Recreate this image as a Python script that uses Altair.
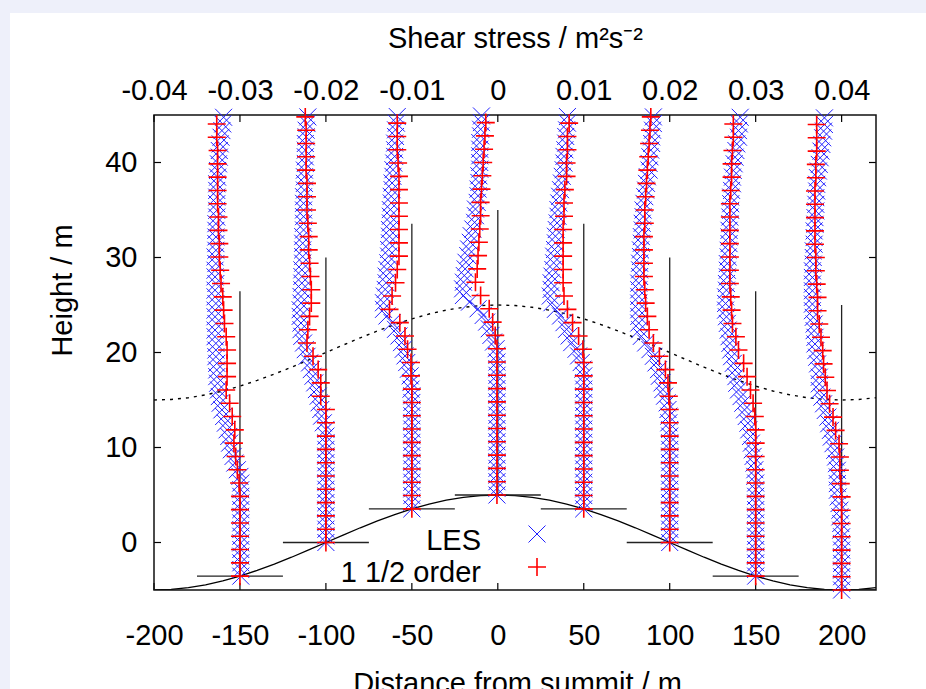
import altair as alt
import pandas as pd

# ---------------- data ----------------
X_TICKS = [-200, -150, -100, -50, 0, 50, 100, 150, 200]
TOP_TICKS = [-0.04, -0.03, -0.02, -0.01, 0.0, 0.01, 0.02, 0.03, 0.04]
Y_TICKS = [0, 10, 20, 30, 40]

PROFILE_X = [-150, -100, -50, 0, 50, 100, 150, 200]
GROUND = [-3.54, 0.0, 3.54, 5.0, 3.54, 0.0, -3.54, -5.0]
ZERO_TOP = [26.46, 30.0, 33.54, 35.0, 33.54, 30.0, 26.46, 25.0]
BAR_HALF = [25, 25, 25, 25, 25, 25, 25, 25]

HILL_X = [-200, -190, -180, -170, -160, -150, -140, -130, -120, -110, -100, -90, -80, -70, -60,
          -50, -40, -30, -20, -10, 0, 10, 20, 30, 40, 50, 60, 70, 80, 90, 100, 110, 120, 130,
          140, 150, 160, 170, 180, 190, 200, 210, 220]
HILL_Y = [-5.0, -4.94, -4.76, -4.46, -4.05, -3.54, -2.94, -2.27, -1.55, -0.78, 0.0, 0.78, 1.55,
          2.27, 2.94, 3.54, 4.05, 4.46, 4.76, 4.94, 5.0, 4.94, 4.76, 4.46, 4.05, 3.54, 2.94,
          2.27, 1.55, 0.78, 0.0, -0.78, -1.55, -2.27, -2.94, -3.54, -4.05, -4.46, -4.76, -4.94,
          -5.0, -4.94, -4.76]
LAYER_Y = [15.0, 15.06, 15.24, 15.54, 15.95, 16.46, 17.06, 17.73, 18.45, 19.22, 20.0, 20.78,
           21.55, 22.27, 22.94, 23.54, 24.05, 24.46, 24.76, 24.94, 25.0, 24.94, 24.76, 24.46,
           24.05, 23.54, 22.94, 22.27, 21.55, 20.78, 20.0, 19.22, 18.45, 17.73, 17.06, 16.46,
           15.95, 15.54, 15.24, 15.06, 15.0, 15.06, 15.24]

# heights above local ground of the model and LES levels (m)
H_MODEL = [0.0, 1.4, 2.8, 4.2, 5.6, 7.0, 8.4, 9.8, 11.2, 12.6, 14.0, 15.4, 16.8, 18.2, 19.6,
           21.0, 22.4, 23.8, 25.2, 26.6, 28.0, 29.4, 30.8, 32.2, 33.6, 35.0, 36.4, 37.8, 39.2,
           40.6, 42.0, 43.4, 44.8, 46.2, 47.6, 49.0]
H_LES = [0.0, 0.7, 1.4, 2.1, 2.8, 3.5, 4.2, 4.9, 5.6, 6.3, 7.0, 7.7, 8.4, 9.1, 9.8, 10.5, 11.2,
         11.9, 12.6, 13.3, 14.0, 14.7, 15.4, 16.1, 16.8, 17.5, 18.2, 18.9, 19.6, 20.3, 21.0,
         21.7, 22.4, 23.1, 23.8, 24.5, 25.2, 25.9, 26.6, 27.3, 28.0, 28.7, 29.4, 30.1, 30.8,
         31.5, 32.2, 32.9, 33.6, 34.3, 35.0, 35.7, 36.4, 37.1, 37.8, 38.5, 39.2, 39.9, 40.6,
         41.3, 42.0, 42.7, 43.4, 44.1, 44.8, 45.5, 46.2, 46.9, 47.6, 48.3, 49.0, 49.7]

# shear stress in units of 1e-3 m2 s-2, bottom level upward
MODEL_M150 = [0.0, 0.0, 0.0, 0.0, 0.0, 0.0, 0.0, -0.1, -0.3, -0.5, -0.7, -0.6, -0.9, -1.2, -1.6,
              -1.5, -1.5, -1.5, -1.6, -1.8, -1.9, -2.0, -2.2, -2.3, -2.4, -2.4, -2.5, -2.5,
              -2.6, -2.6, -2.6, -2.6, -2.6, -2.7, -2.7]
LES_M150 = [0.1, 0.1, 0.1, 0.1, 0.1, 0.1, 0.1, 0.1, 0.1, 0.1, 0.1, 0.1, 0.1, 0.1, 0.1, 0.0,
            -0.3, -0.6, -0.8, -1.0, -1.2, -1.3, -1.5, -1.7, -1.9, -2.1, -2.3, -2.4, -2.5, -2.6,
            -2.7, -2.7, -2.7, -2.8, -2.8,
            -2.8, -2.9, -2.9, -2.8, -2.9, -2.9, -2.8, -2.9, -2.9, -2.8, -2.9, -2.9, -2.8, -2.9,
            -2.8, -2.8, -2.8, -2.8, -2.8, -2.7, -2.7, -2.7,
            -2.7, -2.7, -2.7, -2.6, -2.6, -2.5, -2.4, -2.4, -2.3, -2.2, -2.1, -2.0, -1.9]
MODEL_M100 = [0.0, 0.0, 0.0, 0.0, 0.0, 0.0, 0.0, 0.0, 0.0, 0.0, 0.0, -0.6, -0.6, -0.9, -1.5,
              -2.2, -2.1, -1.9, -1.7, -1.7, -1.8, -1.9, -2.0, -2.0, -2.1, -2.2, -2.2, -2.2,
              -2.3, -2.3, -2.3, -2.3, -2.4]
LES_M100 = [0.0, 0.0, 0.0, 0.0, 0.0, 0.0, 0.0, 0.0, 0.0, 0.0, 0.0, 0.0, 0.0, 0.0, 0.0, 0.0,
            0.0, 0.0, -0.3, -0.5, -0.6, -0.8, -0.9, -1.1, -1.3, -1.5, -1.7, -1.9, -2.2, -2.4,
            -2.6, -2.8, -2.9, -2.9, -3.0, -3.0, -2.9, -2.9, -2.8, -2.8, -2.8, -2.8, -2.7, -2.7,
            -2.7, -2.7, -2.7, -2.6, -2.6, -2.6, -2.6, -2.6, -2.6, -2.5, -2.5, -2.5, -2.5, -2.4,
            -2.4, -2.4, -2.4, -2.3, -2.3, -2.2, -2.1]
MODEL_M50 = [0.0, 0.0, 0.0, 0.0, 0.0, 0.0, 0.0, 0.0, 0.0, 0.0, -0.1, -0.1, -0.5, -0.8, -1.4,
             -2.6, -2.3, -1.9, -1.7, -1.5, -1.5, -1.5, -1.5, -1.5, -1.5, -1.5, -1.6, -1.7,
             -1.7, -1.7]
LES_M50 = [0.0, 0.0, 0.0, 0.0, 0.0, 0.0, 0.0, 0.0, 0.0, 0.0, 0.0, 0.0, 0.0, 0.0, 0.0, 0.0,
           0.0, 0.0, -0.1, -0.1, -0.2, -0.4, -0.6, -0.8, -1.0, -1.2, -1.5, -1.9, -2.3, -2.9,
           -3.3, -3.3, -3.2, -3.1, -3.0, -3.0, -2.9, -2.8, -2.7, -2.7, -2.6, -2.6, -2.6, -2.5,
           -2.5, -2.5, -2.4, -2.4, -2.3, -2.3, -2.2, -2.2, -2.1, -2.0, -2.0, -2.0, -1.9, -1.9,
           -1.8, -1.7]
MODEL_0 = [-0.1, -0.1, -0.1, -0.1, -0.1, -0.1, -0.1, -0.1, -0.1, -0.1, -0.1, -0.1, -0.3, -0.6,
           -1.0, -2.0, -2.6, -2.4, -2.3, -2.2, -2.1, -2.0, -2.0, -1.9, -1.8, -1.7, -1.6, -1.5,
           -1.4]
LES_0 = [-0.1, -0.1, -0.1, -0.1, -0.1, -0.1, -0.1, -0.1, -0.1, -0.1, -0.1, -0.1, -0.1, -0.1,
         -0.1, -0.1, -0.1, -0.1, -0.1, -0.1, -0.1, -0.1, -0.2, -0.5, -0.8, -1.0, -1.3, -1.7,
         -2.3, -3.3, -4.0, -4.1, -4.0, -3.9, -3.8, -3.7, -3.5, -3.4, -3.2, -3.1, -2.9, -2.7,
         -2.6, -2.6, -2.4, -2.3, -2.3, -2.2, -2.2, -2.1, -2.1, -2.1, -2.1, -2.1, -2.0, -2.0,
         -1.9, -1.9]
MODEL_50 = [0.0, 0.0, 0.0, 0.0, 0.0, 0.0, 0.0, 0.0, 0.0, 0.0, 0.0, 0.0, -0.1, -0.6, -1.3,
            -1.9, -2.3, -2.4, -2.4, -2.4, -2.4, -2.4, -2.3, -2.3, -2.2, -2.0, -2.0, -1.9,
            -1.9, -1.7]
LES_50 = [0.0, 0.0, 0.0, 0.0, 0.0, 0.0, 0.0, 0.0, 0.0, 0.0, 0.0, 0.0, 0.0, 0.0, 0.0, 0.0, 0.0,
          0.0, 0.0, 0.0, 0.0, -0.1, -0.3, -0.6, -0.9, -1.4, -1.7, -2.0, -2.3, -2.7, -3.3, -3.7,
          -3.9, -3.8, -3.8, -3.7, -3.6, -3.5, -3.5, -3.4, -3.3, -3.3, -3.2, -3.1, -3.0, -3.0,
          -2.9, -2.8, -2.7, -2.6, -2.5, -2.4, -2.3, -2.3, -2.2, -2.1, -2.1, -2.0, -1.9, -1.9]
MODEL_100 = [0.0, 0.0, 0.0, 0.0, 0.0, 0.0, 0.0, 0.0, 0.0, 0.0, 0.0, -0.1, -0.2, -0.5, -1.2,
             -1.9, -2.4, -2.6, -2.8, -2.9, -3.0, -3.0, -3.0, -3.0, -2.9, -2.9, -2.8, -2.7,
             -2.6, -2.5, -2.4, -2.3, -2.2]
LES_100 = [0.0, 0.0, 0.0, 0.0, 0.0, 0.0, 0.0, 0.0, 0.0, 0.0, 0.0, 0.0, 0.0, 0.0, 0.0, 0.0, 0.0,
           0.0, -0.1, -0.1, -0.2, -0.3, -0.6, -0.8, -0.9, -1.2, -1.3, -1.6, -1.9, -2.3, -2.8,
           -3.3, -3.5, -3.6, -3.6, -3.6, -3.6, -3.6, -3.6, -3.6, -3.5, -3.5, -3.5, -3.4, -3.4,
           -3.3, -3.3, -3.2, -3.2, -3.1, -3.1, -3.0, -2.9, -2.8, -2.7, -2.6, -2.4, -2.4, -2.3,
           -2.2, -2.1, -2.1, -2.0, -1.9, -1.9]
MODEL_150 = [0.0, 0.0, 0.0, 0.0, 0.0, 0.0, 0.0, 0.0, 0.0, 0.0, 0.0, 0.0, -0.1, -0.3, -0.6,
             -1.0, -1.4, -2.0, -2.3, -2.7, -2.8, -2.9, -3.0, -3.0, -3.0, -3.0, -3.0, -3.0,
             -3.0, -2.9, -2.8, -2.8, -2.7, -2.6, -2.6]
LES_150 = [0.0, 0.0, 0.0, 0.0, 0.0, 0.0, 0.0, 0.0, 0.0, 0.0, 0.0, 0.0, 0.0, 0.0, 0.0, -0.1,
           -0.1, -0.2, -0.3, -0.4, -0.5, -0.6, -0.8, -0.9, -1.1, -1.3, -1.5, -1.7, -2.0, -2.2,
           -2.3, -2.4, -2.6, -2.8, -2.9, -3.0, -3.1, -3.2, -3.3, -3.4, -3.5, -3.5, -3.5, -3.4,
           -3.4, -3.3, -3.3, -3.3, -3.2, -3.2, -3.1, -3.1, -3.1, -3.0, -3.0, -2.9, -2.9, -2.9,
           -2.8, -2.7, -2.7, -2.6, -2.5, -2.4, -2.3, -2.2, -2.0, -2.0, -1.9, -1.8]
MODEL_200 = [0.0, 0.0, 0.0, 0.0, 0.0, 0.0, 0.0, 0.0, -0.1, -0.2, -0.2, -0.3, -0.7, -1.0, -1.4,
             -1.7, -1.9, -2.1, -2.2, -2.4, -2.6, -2.8, -2.8, -2.9, -3.0, -3.0, -3.1, -3.1,
             -3.1, -3.1, -3.1, -3.0, -3.0, -2.9, -2.9, -2.9]
LES_200 = [0.0, 0.0, 0.0, 0.0, 0.0, 0.0, 0.0, 0.0, 0.0, -0.1, -0.1, -0.2, -0.2, -0.3, -0.4,
           -0.5, -0.5, -0.5, -0.5, -0.6, -0.7, -0.8, -1.0, -1.2, -1.3, -1.5, -1.6, -1.9, -2.1,
           -2.3, -2.6, -2.6, -2.6, -2.6, -2.8, -2.9, -3.0, -3.1, -3.1, -3.2, -3.2, -3.3, -3.4,
           -3.4, -3.4, -3.4, -3.4, -3.4, -3.4, -3.3, -3.3, -3.3, -3.2, -3.2, -3.2, -3.1, -3.1,
           -3.0, -3.0, -3.0, -2.9, -2.9, -2.8, -2.7, -2.6, -2.5, -2.4, -2.3, -2.2, -2.1, -2.0,
           -2.0]

MODEL = [MODEL_M150, MODEL_M100, MODEL_M50, MODEL_0, MODEL_50, MODEL_100, MODEL_150, MODEL_200]
LES = [LES_M150, LES_M100, LES_M50, LES_0, LES_50, LES_100, LES_150, LES_200]
LEGEND = ["LES", "1 1/2 order"]

Y_MAX = 45.0
M_PER_STRESS = 5.0  # 1e-3 m2 s-2 of shear stress = 5 m on the distance axis (top axis)

# ---------------- tables ----------------
def profile_rows(levels, series):
    rows = []
    for x0, g, vals in zip(PROFILE_X, GROUND, series):
        for h, s in zip(levels, vals):
            z = g + h
            if z <= Y_MAX + 0.05:
                rows.append({"x": x0 + s * M_PER_STRESS, "y": z})
    return pd.DataFrame(rows)

les_df = profile_rows(H_LES, LES)
model_df = profile_rows(H_MODEL, MODEL)
hill_df = pd.DataFrame({"x": HILL_X, "y": HILL_Y})
layer_df = pd.DataFrame({"x": HILL_X, "y": LAYER_Y})
zero_df = pd.DataFrame({"x": PROFILE_X, "y": GROUND, "y2": ZERO_TOP})
bar_df = pd.DataFrame({"x": [p - b for p, b in zip(PROFILE_X, BAR_HALF)],
                       "x2": [p + b for p, b in zip(PROFILE_X, BAR_HALF)],
                       "y": GROUND})
xt_df = pd.DataFrame({"x": X_TICKS})
yt_df = pd.DataFrame({"y": Y_TICKS})
top_df = pd.DataFrame({"s": TOP_TICKS})

# ---------------- chart ----------------
FONT = "Liberation Sans"
FS = 29
W, H = 722, 475
PAGE = "#eef0fa"
xs = alt.Scale(domain=[-200, 220], nice=False, zero=False)
ys = alt.Scale(domain=[-5, 45], nice=False, zero=False)
ss = alt.Scale(domain=[-0.04, 0.044], nice=False, zero=False)

AX_X = alt.Axis(
    orient="bottom", values=X_TICKS, ticks=False, domain=False, grid=False, zindex=1,
    labelExpr="(datum.value < 0 ? '-' : '') + format(abs(datum.value), 'd')",
    labelFont=FONT, labelFontSize=FS, labelColor="black", labelPadding=31,
    labelFlush=False, labelOverlap=False,
    title="Distance from summit / m", titleFont=FONT, titleFontSize=FS,
    titleFontWeight="normal", titleColor="black", titleX=363, titleY=93,
    titleBaseline="middle", titleAlign="center")
AX_Y = alt.Axis(
    orient="left", values=Y_TICKS, ticks=False, domain=False, grid=False, zindex=1,
    labelFont=FONT, labelFontSize=FS, labelColor="black", labelPadding=17,
    labelFlush=False, labelOverlap=False, format="d",
    title="Height / m", titleFont=FONT, titleFontSize=FS, titleFontWeight="normal",
    titleColor="black", titleAngle=270, titleX=-92, titleY=175,
    titleBaseline="middle", titleAlign="center")


def X(field="x"):
    return alt.X(f"{field}:Q", scale=xs, axis=AX_X)


def Y(field="y"):
    return alt.Y(f"{field}:Q", scale=ys, axis=AX_Y)


PLUS = "M-1,0L1,0M0,-1L0,1"
CROSS = "M-1,-1L1,1M-1,1L1,-1"

# page strips around the white card
strip_top = alt.Chart().mark_rect(color=PAGE).encode(
    x=alt.value(-154), x2=alt.value(W + 50), y=alt.value(-115), y2=alt.value(-102))
strip_left = alt.Chart().mark_rect(color=PAGE).encode(
    x=alt.value(-154), x2=alt.value(-144), y=alt.value(-115), y2=alt.value(H + 99))

hill = alt.Chart(hill_df).mark_line(color="black", strokeWidth=1.3, clip=True).encode(
    x=X(), y=Y())

layer_line = alt.Chart(layer_df).mark_line(color="black", strokeWidth=1.4,
                                           strokeDash=[3, 5], clip=True).encode(x=X(), y=Y())

zero_lines = alt.Chart(zero_df).mark_rule(color="#222222", strokeWidth=1.3).encode(
    x=X(), y=Y(), y2="y2:Q")

bars = alt.Chart(bar_df).mark_rule(color="#222222", strokeWidth=1.3, clip=True).encode(
    x=X(), x2="x2:Q", y=Y())

bt = alt.Chart(xt_df).mark_rule(color="black", strokeWidth=1.2).encode(
    x=X(), y=alt.value(H), y2=alt.value(H - 7))
lt = alt.Chart(yt_df).mark_rule(color="black", strokeWidth=1.2).encode(
    y=Y(), x=alt.value(0), x2=alt.value(7))
rt = alt.Chart(yt_df).mark_rule(color="black", strokeWidth=1.2).encode(
    y=Y(), x=alt.value(W), x2=alt.value(W - 7))

# plot frame
frame = alt.Chart().mark_rect(filled=False, stroke="#111111", strokeWidth=1.5).encode(
    x=alt.value(0), x2=alt.value(W), y=alt.value(0), y2=alt.value(H))

les_pts = alt.Chart(les_df).mark_point(shape=CROSS, filled=False, size=289, color="#1f1fff",
                                       strokeWidth=1.0, opacity=1).encode(x=X(), y=Y())
model_pts = alt.Chart(model_df).mark_point(shape=PLUS, filled=False, size=324, color="#ff0000",
                                           strokeWidth=1.6, opacity=1).encode(x=X(), y=Y())

# key (gnuplot style: text, then symbol)
key_les_t = alt.Chart().mark_text(text=LEGEND[0], font=FONT, fontSize=FS, align="right",
                                  baseline="middle", color="black").encode(
    x=alt.value(327), y=alt.value(426))
key_mod_t = alt.Chart().mark_text(text=LEGEND[1], font=FONT, fontSize=FS, align="right",
                                  baseline="middle", color="black").encode(
    x=alt.value(327), y=alt.value(458))
key_les_s = alt.Chart().mark_point(shape=CROSS, filled=False, size=289, color="#1f1fff",
                                   strokeWidth=1.0, opacity=1).encode(
    x=alt.value(383), y=alt.value(419))
key_mod_s = alt.Chart().mark_point(shape=PLUS, filled=False, size=324, color="#ff0000",
                                   strokeWidth=1.6, opacity=1).encode(
    x=alt.value(383), y=alt.value(452))

main = alt.layer(strip_top, strip_left, hill, layer_line, zero_lines, bars, bt, lt, rt, frame,
                 les_pts, model_pts, key_les_t, key_mod_t, key_les_s, key_mod_s)

top = alt.Chart(top_df).mark_rule(color="black", strokeWidth=1.2).encode(
    x=alt.X("s:Q", scale=ss, axis=alt.Axis(
        orient="top", values=TOP_TICKS, ticks=False, domain=False, grid=False, zindex=1,
        labelExpr="datum.value == 0 ? '0' : (datum.value < 0 ? '-' : '') + format(abs(datum.value), '.2f')",
        labelFont=FONT, labelFontSize=FS, labelColor="black", labelPadding=10,
        labelFlush=False, labelOverlap=False,
        title="Shear stress / m²s⁻²", titleFont=FONT, titleFontSize=FS,
        titleFontWeight="normal", titleColor="black", titleX=361, titleY=-77,
        titleBaseline="middle", titleAlign="center")),
    y=alt.value(0), y2=alt.value(7))

chart = alt.layer(main, top).resolve_scale(x="independent").properties(
    width=W, height=H,
    padding={"left": 154, "top": 115, "right": 50, "bottom": 99},
    autosize=alt.AutoSizeParams(type="none"),
    background="white",
).configure_view(stroke=None)

chart.save("out.html", embed_options={"renderer": "svg", "actions": False})
